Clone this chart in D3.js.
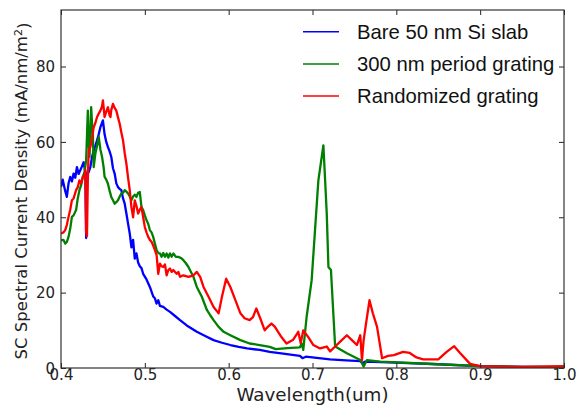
<!DOCTYPE html>
<html><head><meta charset="utf-8">
<script src="https://cdn.jsdelivr.net/npm/d3@7"></script>
<style>body{margin:0;background:#fff}svg{display:block}</style>
</head><body>
<svg id="c" width="578" height="406"></svg>
<script>
const seriesNames = ["Bare 50 nm Si slab", "300 nm period grating", "Randomized grating"];
const seriesColors = ["#0000ff", "#008000", "#ff0000"];
const xTicks = [0.4, 0.5, 0.6, 0.7, 0.8, 0.9, 1.0];
const yTicks = [0, 20, 40, 60, 80];
const xLabel = "Wavelength(um)";
const yLabel = "SC Spectral Current Density (mA/nm/m";

const bareWl = [0.400,0.402,0.405,0.407,0.409,0.411,0.413,0.415,0.417,0.419,0.421,0.423,0.425,0.427,0.429,0.430,0.431,0.433,0.435,0.437,0.439,0.441,0.443,0.445,0.447,0.450,0.452,0.454,0.456,0.458,0.460,0.462,0.464,0.466,0.468,0.470,0.472,0.474,0.476,0.478,0.480,0.482,0.484,0.486,0.488,0.490,0.492,0.494,0.496,0.498,0.502,0.506,0.510,0.512,0.514,0.516,0.518,0.522,0.526,0.530,0.536,0.542,0.550,0.562,0.572,0.582,0.592,0.602,0.612,0.622,0.637,0.649,0.665,0.685,0.688,0.692,0.705,0.721,0.740,0.757,0.760,0.763,0.800,0.850,0.900,0.950,1.000];
const bareVal = [48,50,47,45.4,49,50.7,49.5,51.6,50.5,53.3,51.5,52.5,53.5,54.6,52,34.5,51.6,52,53.3,56,57.7,59,60.4,62,63.9,65.7,62,60,58.6,57.5,56,53,51.6,49,48,47.5,47.2,45,43.6,41,38.3,35.7,32,34,29,30.4,28,27,26.5,25,23.5,21.5,19,18.5,17.1,18,16.5,16.2,15.5,14.9,13.8,12.7,11.3,9.6,8.5,7.4,6.7,6.1,5.6,5.2,4.8,4.3,3.8,3.2,2.6,3.0,2.7,2.3,2.0,1.8,1.3,1.7,1.4,1.0,0.5,0.3,0.2];

const periodWl = [0.400,0.403,0.405,0.407,0.409,0.411,0.413,0.415,0.418,0.420,0.422,0.424,0.426,0.428,0.430,0.432,0.433,0.434,0.435,0.436,0.437,0.438,0.439,0.441,0.443,0.445,0.447,0.449,0.451,0.452,0.454,0.456,0.458,0.460,0.462,0.464,0.466,0.468,0.470,0.472,0.474,0.476,0.478,0.480,0.482,0.484,0.486,0.488,0.490,0.492,0.494,0.496,0.498,0.500,0.502,0.504,0.506,0.508,0.510,0.512,0.514,0.516,0.518,0.520,0.522,0.524,0.526,0.528,0.530,0.532,0.534,0.537,0.540,0.543,0.546,0.549,0.552,0.555,0.558,0.562,0.568,0.574,0.578,0.582,0.588,0.594,0.602,0.614,0.625,0.637,0.649,0.656,0.670,0.685,0.687,0.689,0.693,0.699,0.703,0.707,0.713,0.717,0.719,0.722,0.727,0.741,0.757,0.761,0.765,0.781,0.850,0.900,0.950,1.000];
const periodVal = [33.9,34,33,33.5,34.8,37,40.1,40.5,41.9,45,47.2,48.5,50.7,52,55.1,68.3,60,56,62,69.2,65,62.2,53.3,56.9,59,61.3,58,56,53,50.7,50,48.9,47,45.4,44.5,43.6,44,44.5,45.5,46.3,46.5,47.2,46.8,46.3,45.5,44.5,45.5,46,45.4,46.5,46.7,42.7,41.9,40.5,39.2,38.3,36.6,36,34.8,33,31.3,30.5,30.4,29.5,30.5,29.5,30.4,29.3,30.4,29.5,30.4,29.5,29.5,29.2,28.6,27.8,26.8,25.5,24.2,21.5,18.9,15.4,14,12.7,10.9,9.6,8.7,7.4,6.5,6.1,5.6,5,5.3,5.5,6.5,4.8,13.6,23.3,36.6,49.8,59.1,41,26.8,26,5.7,3.9,2.1,0.4,2.1,1.7,1.0,0.5,0.3,0.3];

const randWl = [0.400,0.403,0.405,0.407,0.409,0.411,0.413,0.415,0.418,0.420,0.422,0.424,0.426,0.428,0.429,0.430,0.431,0.432,0.433,0.435,0.437,0.439,0.441,0.443,0.445,0.447,0.449,0.450,0.452,0.454,0.456,0.458,0.459,0.460,0.462,0.464,0.466,0.468,0.470,0.472,0.474,0.476,0.478,0.480,0.482,0.484,0.486,0.488,0.490,0.492,0.494,0.496,0.498,0.500,0.502,0.504,0.506,0.508,0.510,0.512,0.514,0.516,0.518,0.520,0.522,0.524,0.526,0.528,0.530,0.532,0.534,0.536,0.538,0.540,0.542,0.546,0.552,0.558,0.562,0.566,0.570,0.576,0.582,0.588,0.592,0.597,0.602,0.608,0.614,0.619,0.625,0.629,0.633,0.638,0.643,0.647,0.651,0.655,0.662,0.669,0.677,0.683,0.686,0.689,0.695,0.701,0.709,0.717,0.721,0.727,0.734,0.741,0.747,0.753,0.757,0.759,0.761,0.764,0.768,0.772,0.777,0.783,0.790,0.797,0.808,0.816,0.824,0.832,0.850,0.860,0.869,0.876,0.888,0.900,0.950,1.000];
const randVal = [35.7,36,36.6,38,40.1,42,44.5,45,47.2,48,49.8,49,50.7,51,52.5,36,35,50,57.7,58.6,61,63.9,65,66.6,67.5,68.3,69.5,71,66.6,68,69.2,67,66.6,68.5,70.1,69,68.3,66.5,64.8,62.5,60.4,57,54.2,50.5,47.2,42.7,40,44.5,43,41,42,42.7,40,37.4,36,34.8,34,33.5,32.5,31.3,30,25,27.7,27,26.8,27.5,24.6,26,26.4,25.5,26,25.5,25,25.5,24.2,24.6,24.2,24.6,25.5,24.2,21.5,18.9,16.2,14.5,18.9,23.7,21.5,18,14.5,13.2,12.7,13.5,15.8,13,10,11,11.8,11,8.5,6.5,7.5,9.6,6.6,10,8.2,6.1,5.2,5.7,4.4,5.7,7.2,8.7,7.4,6.1,8.7,2.1,7.4,12,18,14.5,10.9,2.6,3.2,3.4,4.3,4,2.8,2.3,2.3,4.3,5.8,4,1.1,0.5,0.3,0.5];

const seriesWl = [bareWl, periodWl, randWl];
const seriesVal = [bareVal, periodVal, randVal];

const W = 578, H = 406;
const m = {left: 61, right: 14, top: 10, bottom: 38};
const svg = d3.select("#c");
const x = d3.scaleLinear().domain([0.4, 1.0]).range([m.left, W - m.right]);
const y = d3.scaleLinear().domain([0, 95]).range([H - m.bottom, m.top]);

svg.append("defs").append("clipPath").attr("id", "clip")
  .append("rect").attr("x", m.left).attr("y", m.top)
  .attr("width", W - m.left - m.right).attr("height", H - m.top - m.bottom);

const line = d3.line().x(d => x(d[0])).y(d => y(d[1]));
const plot = svg.append("g").attr("clip-path", "url(#clip)");
seriesNames.forEach((n, i) => {
  const pts = seriesWl[i].map((w, j) => [w, seriesVal[i][j]]);
  plot.append("path").attr("d", line(pts)).attr("fill", "none")
    .attr("stroke", seriesColors[i]).attr("stroke-width", 2.3)
    .attr("stroke-linejoin", "round");
});

const font = "'DejaVu Sans', sans-serif";
const tl = 5;
const xb = svg.append("g").attr("transform", `translate(0,${H - m.bottom})`)
  .call(d3.axisBottom(x).tickValues(xTicks).tickSize(-tl).tickPadding(5).tickFormat(d3.format(".1f")));
const xt = svg.append("g").attr("transform", `translate(0,${m.top})`)
  .call(d3.axisTop(x).tickValues(xTicks).tickSize(-tl).tickFormat(""));
const yl = svg.append("g").attr("transform", `translate(${m.left},0)`)
  .call(d3.axisLeft(y).tickValues(yTicks).tickSize(-tl).tickPadding(6).tickFormat(d3.format("d")));
const yr = svg.append("g").attr("transform", `translate(${W - m.right},0)`)
  .call(d3.axisRight(y).tickValues(yTicks).tickSize(-tl).tickFormat(""));
[xb, xt, yl, yr].forEach(g => {
  g.select(".domain").remove();
  g.selectAll("line").attr("stroke", "#222").attr("stroke-width", 1);
  g.selectAll("text").attr("font-family", font).attr("font-size", 15).attr("fill", "#222");
});
xb.selectAll("text").attr("dy", "0.45em");
yl.selectAll("text").attr("dy", "0.35em");

svg.append("rect").attr("x", m.left).attr("y", m.top)
  .attr("width", W - m.left - m.right).attr("height", H - m.top - m.bottom)
  .attr("fill", "none").attr("stroke", "#333").attr("stroke-width", 1.2);

svg.append("text").attr("x", (m.left + W - m.right) / 2).attr("y", 401)
  .attr("text-anchor", "middle").attr("font-family", font).attr("font-size", 18.3)
  .attr("fill", "#222").text(xLabel);

const ylab = svg.append("text").attr("transform", `translate(27,${(m.top + H - m.bottom) / 2 + 2}) rotate(-90)`)
  .attr("text-anchor", "middle").attr("font-family", font).attr("font-size", 16.5).attr("fill", "#222");
ylab.append("tspan").text(yLabel);
ylab.append("tspan").attr("dy", "-0.45em").attr("font-size", 11).text("2");
ylab.append("tspan").attr("dy", "0.45em").text(")");

const lg = svg.append("g");
seriesNames.forEach((n, i) => {
  const ly = 31.7 + i * 32.2;
  lg.append("line").attr("x1", 303).attr("x2", 339).attr("y1", ly).attr("y2", ly)
    .attr("stroke", seriesColors[i]).attr("stroke-width", 1.5);
  lg.append("text").attr("x", 357).attr("y", ly + 6.8)
    .attr("font-family", "'Liberation Sans', Arial, sans-serif").attr("font-size", 20.3)
    .attr("fill", "#111").text(n);
});
</script>
</body></html>
